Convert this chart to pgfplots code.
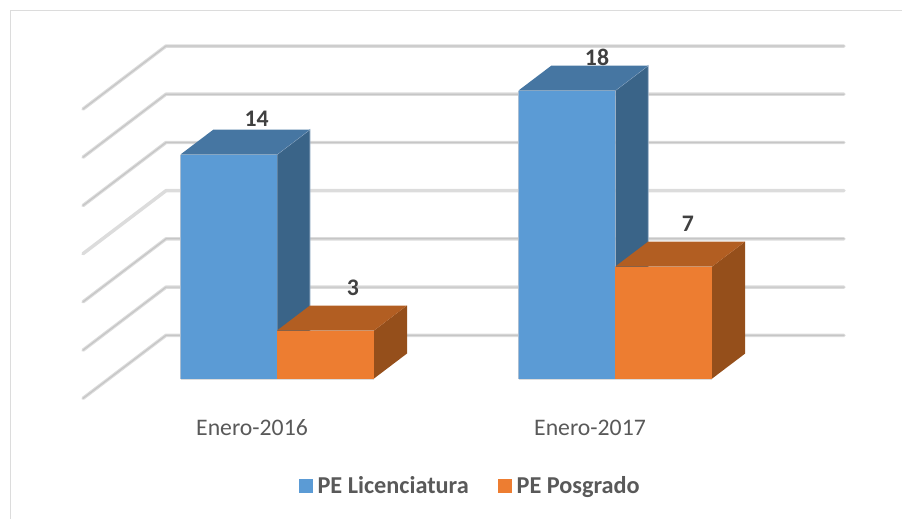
\documentclass[border=0pt]{standalone}
\usepackage{pgfplots}
\pgfplotsset{compat=1.18}
\usepackage{fontspec}
\setmainfont{Carlito}
\definecolor{bluef}{HTML}{5B9BD5}
\definecolor{bluet}{HTML}{4676A2}
\definecolor{blues}{HTML}{3A6488}
\definecolor{orf}{HTML}{ED7D31}
\definecolor{ort}{HTML}{B25E22}
\definecolor{ors}{HTML}{954F1B}
\definecolor{gridl}{HTML}{DCDCDC}
\definecolor{gridd}{HTML}{C6C6C6}
\definecolor{edgeb}{HTML}{A9BDD2}
\definecolor{txtd}{HTML}{404040}
\definecolor{txtl}{HTML}{595959}
\newcommand{\lab}{\fontsize{17.8}{20}\selectfont}
\newcommand{\leg}{\fontsize{18.2}{20}\selectfont}
\pgfplotsset{
  wall/.style={gridl, line width=2.6pt, forget plot, line cap=round, line join=round},
  wallc/.style={gridd, line width=0.9pt, forget plot, line cap=round, line join=round},
}
\begin{document}
\begin{tikzpicture}
\path[use as bounding box] (0,0) rectangle (676.5pt,389.25pt);
\node[font=\bfseries\lab, text=black, anchor=center] at (299.2pt,396.6pt) {g};
\begin{axis}[
  at={(0,0)}, anchor=south west,
  scale only axis, width=676.5pt, height=389.25pt,
  xmin=0, xmax=902, ymin=-8.78125, ymax=23.65625,
  axis line style={draw=none}, major tick length=0pt,
  xtick={252,590}, xticklabels={Enero-2016,Enero-2017},
  ytick=\empty,
  x tick label style={font=\lab, text=txtl, anchor=center, yshift=68.5pt},
  clip=false,
  legend columns=2,
  legend cell align=left,
  legend style={draw=none, fill=none, font=\bfseries\leg, text=txtl,
    at={(axis cs:299,-6.72)}, anchor=west, inner sep=0pt, outer sep=0pt,
    /tikz/every even column/.style={column sep=20pt}},
  legend image code/.code={\fill[#1] (0pt,-5.2pt) rectangle (10.4pt,5.2pt); \path (11.9pt,0pt);},
]
% chart frame
\addplot[gridl, line width=1.1pt, forget plot] coordinates {(10.5,-8.78) (10.5,23.0) (902,23.0)};
% back wall and side wall gridlines, value 0,3,...,18
\addplot[wall] coordinates {(83,-1.24) (166,2.7) (844,2.7)};
\addplot[wall] coordinates {(83,1.77) (166,5.71) (844,5.71)};
\addplot[wall] coordinates {(83,4.79) (166,8.73) (844,8.73)};
\addplot[wall] coordinates {(83,7.80) (166,11.74) (844,11.74)};
\addplot[wall] coordinates {(83,10.81) (166,14.75) (844,14.75)};
\addplot[wall] coordinates {(83,13.83) (166,17.77) (844,17.77)};
\addplot[wall] coordinates {(83,16.84) (166,20.78) (844,20.78)};
\addplot[wallc] coordinates {(83,-1.24) (166,2.7) (844,2.7)};
\addplot[wallc] coordinates {(83,1.77) (166,5.71) (844,5.71)};
\addplot[wallc] coordinates {(83,4.79) (166,8.73) (844,8.73)};
\addplot[wallc] coordinates {(83,10.81) (166,14.75) (844,14.75)};
\addplot[wallc] coordinates {(83,13.83) (166,17.77) (844,17.77)};
\addplot[wallc] coordinates {(83,16.84) (166,20.78) (844,20.78)};
% PE Licenciatura 2016 = 14
\addplot[fill=blues, draw=edgeb, line width=0.5pt, forget plot] coordinates {(277,0) (310,1.5625) (310,15.5625) (277,14)} --cycle;
\addplot[fill=bluet, draw=none, forget plot] coordinates {(180.5,14) (213.5,15.5625) (310,15.5625) (277,14)} --cycle;
\addplot[fill=bluef, draw=none, forget plot] coordinates {(180.5,0) (277,0) (277,14) (180.5,14)} --cycle;
\addplot[edgeb, line width=0.6pt, forget plot] coordinates {(180.5,14) (180.5,0)};
% PE Licenciatura 2017 = 18
\addplot[fill=blues, draw=edgeb, line width=0.5pt, forget plot] coordinates {(615.3,0) (648.3,1.5625) (648.3,19.5625) (615.3,18)} --cycle;
\addplot[fill=bluet, draw=none, forget plot] coordinates {(518.5,18) (551.5,19.5625) (648.3,19.5625) (615.3,18)} --cycle;
\addplot[fill=bluef, draw=none, forget plot] coordinates {(518.5,0) (615.3,0) (615.3,18) (518.5,18)} --cycle;
\addplot[edgeb, line width=0.6pt, forget plot] coordinates {(518.5,18) (518.5,0)};
% PE Posgrado 2016 = 3
\addplot[fill=ors, draw=none, forget plot] coordinates {(374,0) (407,1.5625) (407,4.5625) (374,3)} --cycle;
\addplot[fill=ort, draw=none, forget plot] coordinates {(277,3) (310,4.5625) (407,4.5625) (374,3)} --cycle;
\addplot[fill=orf, draw=none, forget plot] coordinates {(277,0) (374,0) (374,3) (277,3)} --cycle;
% PE Posgrado 2017 = 7
\addplot[fill=ors, draw=none, forget plot] coordinates {(712.2,0) (745.2,1.5625) (745.2,8.5625) (712.2,7)} --cycle;
\addplot[fill=ort, draw=none, forget plot] coordinates {(615.3,7) (648.3,8.5625) (745.2,8.5625) (712.2,7)} --cycle;
\addplot[fill=orf, draw=none, forget plot] coordinates {(615.3,0) (712.2,0) (712.2,7) (615.3,7)} --cycle;
% floor shadow
\addplot[gridl, line width=0.8pt, forget plot] coordinates {(180.5,-0.06) (374,-0.06)};
\addplot[gridl, line width=0.8pt, forget plot] coordinates {(518.5,-0.06) (712.2,-0.06)};
% legend
\addlegendimage{fill=bluef, draw=none}
\addlegendentry{PE Licenciatura}
\addlegendimage{fill=orf, draw=none}
\addlegendentry{PE Posgrado}
% value labels
\node[font=\bfseries\lab, text=txtd] at (axis cs:256.7,16.22) {14};
\node[font=\bfseries\lab, text=txtd] at (axis cs:597,20.1) {18};
\node[font=\bfseries\lab, text=txtd] at (axis cs:353,5.67) {3};
\node[font=\bfseries\lab, text=txtd] at (axis cs:688,9.66) {7};
\end{axis}
\end{tikzpicture}
\end{document}
